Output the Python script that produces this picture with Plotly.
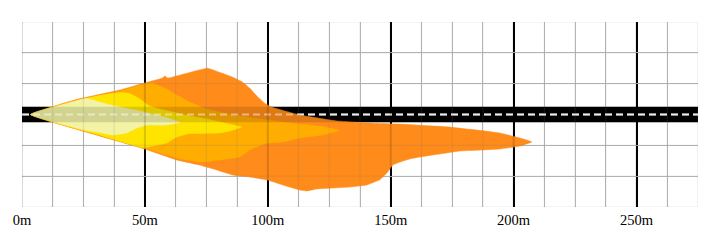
import plotly.graph_objects as go

# ---- axes / layout constants (metres) ----
X_MAX = 275
Y_HALF = 37.5
GRID_STEP = 12.5
MAJOR_STEP = 50
ROAD_HALF = 3.1

# ---- beam zones (distance ahead in m, lateral offset in m) ----
outer_x = [3.5, 21.4, 39.7, 49.9, 57.2, 58.0, 59.3, 75.5, 81.2, 86.0, 89.6, 92.6, 95.9, 99.1, 102.8,
           113.0, 128.0, 141.5, 153.7, 174.0, 194.3, 202.5, 207.4, 202.5, 194.3, 187.4, 178.0,
           169.9, 161.9, 157.8, 153.7, 150.8, 148.8, 145.5, 140.2, 133.3, 126.4, 119.9, 115.8,
           113.0, 106.1, 99.6, 92.6, 85.7, 79.2, 72.3, 62.9, 49.9, 31.6, 3.5]
outer_y = [0.0, 5.9, 9.9, 12.8, 14.8, 15.6, 14.8, 18.8, 16.8, 15.0, 13.2, 10.7, 7.1, 4.3, 2.6,
           -0.2, -2.6, -3.4, -3.9, -5.1, -7.5, -9.5, -11.1, -12.8, -14.0, -14.4, -14.8,
           -16.0, -17.2, -18.0, -19.3, -20.5, -23.3, -26.5, -28.6, -29.4, -29.8, -30.2, -31.0,
           -30.6, -28.6, -26.5, -25.3, -24.5, -22.5, -20.5, -18.4, -14.0, -8.7, 0.0]

mid_x = [3.5, 21.4, 39.7, 49.9, 53.2, 56.0, 58.9, 62.9, 68.2, 75.1, 85.7, 96.7, 108.9, 121.1,
         129.2, 122.3, 113.0, 106.1, 99.6, 92.6, 88.6, 80.4, 72.3, 62.9, 49.9, 31.6, 3.5]
mid_y = [0.0, 5.5, 9.5, 12.4, 12.8, 11.6, 10.3, 7.9, 5.1, 2.2, -0.2, -1.8, -3.4, -4.7,
         -6.5, -8.3, -9.5, -11.1, -11.6, -14.4, -17.2, -18.4, -19.3, -17.6, -13.6, -8.5, 0.0]

inner_x = [3.5, 22.3, 31.6, 39.7, 43.8, 47.9, 51.9, 56.0, 61.3, 68.2, 75.1, 80.4, 89.4,
           84.5, 80.4, 72.3, 68.2, 62.9, 58.9, 49.1, 31.6, 3.5]
inner_y = [0.0, 5.7, 7.7, 8.9, 8.5, 6.3, 3.4, 2.2, 1.0, -0.6, -1.8, -3.0, -5.1,
           -6.7, -7.5, -7.7, -7.7, -9.1, -11.6, -13.4, -8.3, 0.0]

core_x = [3.5, 21.4, 26.3, 32.8, 39.7, 47.9, 58.0, 64.2, 58.0, 50.7, 46.7, 42.6, 36.9, 31.6,
          25.5, 3.5]
core_y = [0.0, 5.3, 6.5, 4.7, 3.0, 1.4, -1.0, -3.2, -4.3, -4.3, -5.5, -7.5, -8.3, -7.3,
          -6.3, 0.0]

zones = [
    ("outer", outer_x, outer_y, "#FF8B1A"),
    ("mid", mid_x, mid_y, "#FFAD00"),
    ("inner", inner_x, inner_y, "#FFE400"),
    ("core", core_x, core_y, "#F3F3A6"),
]

GRID_GRAY = "#bcbcbc"

fig = go.Figure()

road_x = [0, X_MAX, X_MAX, 0, 0]
road_y = [-ROAD_HALF, -ROAD_HALF, ROAD_HALF, ROAD_HALF, -ROAD_HALF]


def add_road(fill, dash_color):
    fig.add_trace(go.Scatter(x=road_x, y=road_y, fill="toself", fillcolor=fill,
                             mode="none", hoverinfo="skip", showlegend=False))
    fig.add_trace(go.Scatter(x=[0, X_MAX], y=[0, 0], mode="lines", hoverinfo="skip",
                             line=dict(color=dash_color, width=2, dash="7px,4px"),
                             showlegend=False))


add_road("black", "white")

for name, xs, ys, col in zones:
    fig.add_trace(go.Scatter(x=xs, y=ys, fill="toself", fillcolor=col, mode="lines",
                             line=dict(color=col, width=0.5, shape="spline", smoothing=0.3),
                             name=name, hoverinfo="skip", showlegend=False))

# faint road and grid showing through the light pattern
add_road("rgba(0,0,0,0.13)", "rgba(255,255,255,0.45)")

n_minor = int(round(X_MAX / GRID_STEP))
gx, gy = [], []
for i in range(n_minor + 1):
    v = i * GRID_STEP
    if v % MAJOR_STEP == 0:
        continue
    gx += [v, v, None]
    gy += [-Y_HALF, Y_HALF, None]
n_h = int(round(2 * Y_HALF / GRID_STEP))
for j in range(n_h + 1):
    v = -Y_HALF + j * GRID_STEP
    if abs(v) < 1e-9:
        continue
    gx += [0, X_MAX, None]
    gy += [v, v, None]
fig.add_trace(go.Scatter(x=gx, y=gy, mode="lines", hoverinfo="skip", showlegend=False,
                         line=dict(color="rgba(120,120,120,0.16)", width=1.2)))
mx, my = [], []
for i in range(int(X_MAX // MAJOR_STEP) + 1):
    v = i * MAJOR_STEP
    mx += [v, v, None]
    my += [-Y_HALF, Y_HALF, None]
fig.add_trace(go.Scatter(x=mx, y=my, mode="lines", hoverinfo="skip", showlegend=False,
                         line=dict(color="rgba(0,0,0,0.15)", width=2)))

fig.update_layout(
    width=720, height=242,
    margin=dict(l=22, r=22, t=22, b=35),
    paper_bgcolor="white", plot_bgcolor="white",
    showlegend=False,
    xaxis=dict(range=[0, X_MAX], tick0=0, dtick=MAJOR_STEP, ticksuffix="m",
               showgrid=True, gridcolor="black", gridwidth=2,
               minor=dict(dtick=GRID_STEP, tick0=0, showgrid=True, gridcolor=GRID_GRAY,
                          gridwidth=1.2),
               zeroline=False, showline=False, ticks="", ticklabelstandoff=2,
               tickfont=dict(family="Liberation Serif", size=14.5, color="black"),
               fixedrange=True),
    yaxis=dict(range=[-Y_HALF, Y_HALF], tick0=0, dtick=GRID_STEP, showgrid=True,
               gridcolor=GRID_GRAY, gridwidth=1.2, zeroline=False, showline=False,
               showticklabels=False, ticks="", fixedrange=True),
)

fig.write_html("out.html")
